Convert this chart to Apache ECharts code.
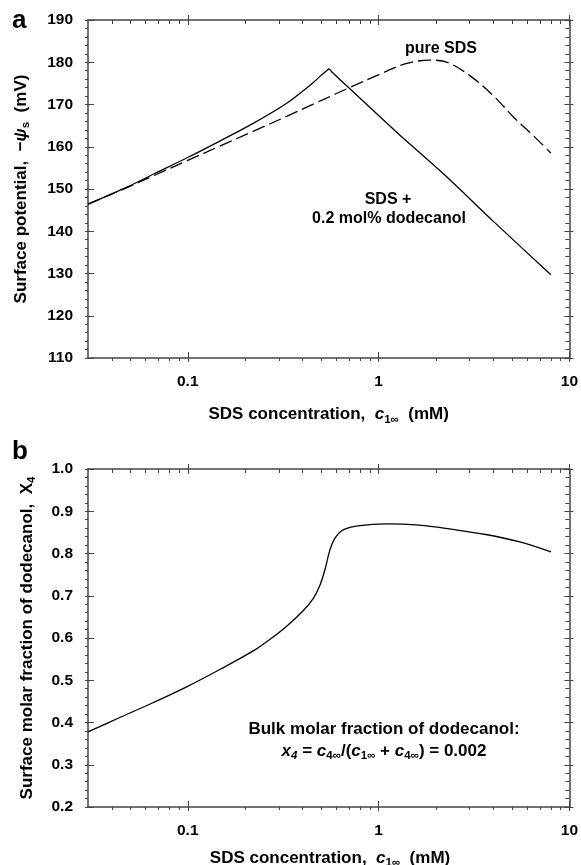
<!DOCTYPE html>
<html><head><meta charset="utf-8">
<script src="https://cdn.jsdelivr.net/npm/echarts@6/dist/echarts.min.js"></script>
<style>html,body{margin:0;padding:0;background:#fff}#c{width:581px;height:865px}</style>
</head><body><div id="c"></div>
<script>
// ---------- data ----------
const xMin = 0.03, xMax = 10;
const xMajorTicks = [0.1, 1, 10];
const xTickLabels = ['0.1', '1', '10'];
const xMinorTicks = [0.04,0.05,0.06,0.07,0.08,0.09,0.2,0.3,0.4,0.5,0.6,0.7,0.8,0.9,2,3,4,5,6,7,8,9];

// panel a: surface potential (mV)
const mixC = [0.03,0.0483,0.0666,0.0993,0.148,0.2214,0.33,0.455,0.50,0.534,0.549,0.575,0.696,1.219,2.222,4.05,8.0];
const mixV = [146.4,150.5,153.6,157.4,161.4,165.6,170.3,175.2,176.9,178.0,178.4,177.5,174.0,163.8,153.3,142.1,129.7];
const pureC = [0.03,0.0483,0.0666,0.0993,0.148,0.2214,0.33,0.455,0.602,0.696,0.997,1.374,1.855,2.312,3.058,4.05,5.15,6.55,8.0];
const pureV = [146.4,150.4,153.2,156.7,160.2,163.7,167.2,170.1,172.6,173.9,177.0,179.6,180.5,179.9,176.6,171.8,166.8,162.4,158.5];

// panel b: surface molar fraction X4
const x4C = [0.03,0.0446,0.0666,0.0993,0.148,0.2214,0.27,0.33,0.4036,0.455,0.4928,0.523,0.5556,0.59,0.6526,0.7967,1.098,1.637,2.445,3.649,5.443,8.0];
const x4V = [0.378,0.413,0.448,0.485,0.526,0.570,0.597,0.628,0.665,0.694,0.725,0.761,0.808,0.836,0.856,0.866,0.870,0.867,0.857,0.845,0.828,0.804];

// ---------- styling ----------
const FONT = '"Liberation Sans", Arial, Helvetica, sans-serif';
const AX = '#444';
const L = v => Math.log10(v);
const zip = (a, b) => a.map((v, i) => [v, b[i]]);
const tickLabelStyle = {fontSize: 15.5, fontWeight: 'bold', color: '#000', fontFamily: FONT};

function richStyles(size) {
  return {
    n: {fontSize: size, fontWeight: 'bold', fontFamily: FONT, color: '#000'},
    i: {fontSize: size, fontWeight: 'bold', fontStyle: 'italic', fontFamily: FONT, color: '#000'},
    sub: {fontSize: size * 0.68, fontWeight: 'bold', fontFamily: FONT, color: '#000', padding: [size * 0.55, 0, 0, 0]},
    isub: {fontSize: size * 0.68, fontWeight: 'bold', fontStyle: 'italic', fontFamily: FONT, color: '#000', padding: [size * 0.55, 0, 0, 0]}
  };
}

const grids = [
  {left: 88, right: 9, top: 20, height: 338},
  {left: 88, right: 9, top: 469, height: 338}
];

const xAxes = [], yAxes = [];
const dataX = [], dataY = [];

function decoX(g, pos, ticks, inside, len, extra) {
  return Object.assign({
    type: 'value', gridIndex: g, position: pos, min: L(xMin), max: L(xMax), silent: true,
    axisLine: {show: false, onZero: false}, splitLine: {show: false}, axisLabel: {show: false},
    axisTick: {show: true, inside: inside, length: len, customValues: ticks.map(L), lineStyle: {color: AX, width: 1}}
  }, extra || {});
}

const xTitle = '{n|SDS concentration,  }{i|c}{sub|1∞}{n|  (mM)}';
const yNames = [
  '{n|Surface potential,  −}{i|ψ}{sub|s}{n|  (mV)}',
  '{n|Surface molar fraction of dodecanol,  X}{sub|4}'
];
const yNameGaps = [56, 50];
const yRanges = [
  {min: 110, max: 190, interval: 10, fmt: v => String(v)},
  {min: 0.2, max: 1.0, interval: 0.1, fmt: v => v.toFixed(1)}
];

for (let g = 0; g < 2; g++) {
  // data axis (log scale)
  dataX.push(xAxes.length);
  xAxes.push({type: 'log', logBase: 10, gridIndex: g, min: xMin, max: xMax, show: false,
    axisLine: {show: false, onZero: false}, splitLine: {show: false}});
  // bottom: line + labels + outer major ticks
  const bottom = {
    axisLine: {show: true, onZero: false, lineStyle: {color: AX, width: 1.5}},
    axisLabel: Object.assign({show: true, margin: 16, customValues: xMajorTicks.map(L),
      formatter: v => { const i = xMajorTicks.findIndex(m => Math.abs(L(m) - v) < 1e-6); return i >= 0 ? xTickLabels[i] : ''; }
    }, tickLabelStyle)
  };
  if (g === 0) {
    Object.assign(bottom, {name: xTitle, nameLocation: 'middle', nameGap: 46, nameTextStyle: {rich: richStyles(17)}});
  }
  xAxes.push(decoX(g, 'bottom', xMajorTicks, false, 4, bottom));
  xAxes.push(decoX(g, 'bottom', xMajorTicks, true, 6));
  xAxes.push(decoX(g, 'bottom', xMinorTicks, false, 3));
  // top
  xAxes.push(decoX(g, 'top', xMajorTicks, true, 5, {axisLine: {show: true, onZero: false, lineStyle: {color: AX, width: 1.5}}}));
  xAxes.push(decoX(g, 'top', xMajorTicks, false, 5));
  xAxes.push(decoX(g, 'top', xMinorTicks, true, 4));

  const r = yRanges[g];
  const base = {type: 'value', gridIndex: g, min: r.min, max: r.max, interval: r.interval, splitLine: {show: false}};
  dataY.push(yAxes.length);
  yAxes.push(Object.assign({}, base, {
    position: 'left',
    axisLine: {show: true, onZero: false, lineStyle: {color: AX, width: 1.5}},
    axisTick: {show: true, inside: false, length: 3, lineStyle: {color: AX, width: 1}},
    minorTick: {show: true, splitNumber: 5, length: 3, lineStyle: {color: AX, width: 1}},
    axisLabel: Object.assign({margin: 15, formatter: r.fmt}, tickLabelStyle),
    name: yNames[g], nameLocation: 'middle', nameGap: yNameGaps[g],
    nameTextStyle: {rich: richStyles(17)}
  }));
  yAxes.push(Object.assign({}, base, {position: 'left', silent: true,
    axisLine: {show: false, onZero: false}, axisLabel: {show: false},
    axisTick: {show: true, inside: true, length: 6, lineStyle: {color: AX, width: 1}}}));
  yAxes.push(Object.assign({}, base, {position: 'right', silent: true,
    axisLine: {show: true, onZero: false, lineStyle: {color: AX, width: 1.5}}, axisLabel: {show: false},
    axisTick: {show: true, inside: true, length: 5, lineStyle: {color: AX, width: 1}},
    minorTick: {show: true, splitNumber: 5, length: 4, lineStyle: {color: AX, width: 1}}}));
  yAxes.push(Object.assign({}, base, {position: 'right', silent: true,
    axisLine: {show: false, onZero: false}, axisLabel: {show: false},
    axisTick: {show: true, inside: false, length: 4, lineStyle: {color: AX, width: 1}}}));
}

const lineBase = {type: 'line', showSymbol: false, symbol: 'none', animation: false, silent: true};

const option = {
  animation: false,
  backgroundColor: '#fff',
  grid: grids,
  xAxis: xAxes,
  yAxis: yAxes,
  series: [
    Object.assign({}, lineBase, {name: 'SDS + 0.2 mol% dodecanol', xAxisIndex: dataX[0], yAxisIndex: dataY[0],
      data: zip(mixC, mixV), smooth: 0.3, lineStyle: {color: '#000', width: 1.3}}),
    Object.assign({}, lineBase, {name: 'pure SDS', xAxisIndex: dataX[0], yAxisIndex: dataY[0],
      data: zip(pureC, pureV), smooth: 0.35, lineStyle: {color: '#000', width: 1.3, type: [13, 5]}}),
    Object.assign({}, lineBase, {name: 'X4', xAxisIndex: dataX[1], yAxisIndex: dataY[1],
      data: zip(x4C, x4V), smooth: 0.35, lineStyle: {color: '#000', width: 1.3}})
  ],
  graphic: [
    {type: 'text', left: 12, top: 8, style: {text: 'a', font: 'bold 26px ' + FONT, fill: '#000'}},
    {type: 'text', left: 12, top: 439, style: {text: 'b', font: 'bold 26px ' + FONT, fill: '#000'}},
    {type: 'text', x: 441, y: 49, style: {text: 'pure SDS', font: 'bold 16px ' + FONT, fill: '#000', align: 'center', verticalAlign: 'middle'}},
    {type: 'text', x: 388, y: 200, style: {text: 'SDS +', font: 'bold 16px ' + FONT, fill: '#000', align: 'center', verticalAlign: 'middle'}},
    {type: 'text', x: 389, y: 219, style: {text: '0.2 mol% dodecanol', font: 'bold 16px ' + FONT, fill: '#000', align: 'center', verticalAlign: 'middle'}},
    {type: 'text', x: 384, y: 729, style: {text: 'Bulk molar fraction of dodecanol:', font: 'bold 17px ' + FONT, fill: '#000', align: 'center', verticalAlign: 'middle'}},
    {type: 'text', x: 384, y: 751, style: {
      text: '{i|x}{isub|4}{n| = }{i|c}{sub|4∞}{n|/(}{i|c}{sub|1∞}{n| + }{i|c}{sub|4∞}{n|) = 0.002}',
      rich: richStyles(17), align: 'center', verticalAlign: 'middle'}},
    {type: 'text', x: 330, y: 858, style: {text: xTitle, rich: richStyles(17), align: 'center', verticalAlign: 'middle'}}
  ]
};

const chart = echarts.init(document.getElementById('c'), null, {renderer: 'canvas'});
chart.setOption(option);
</script>
</body></html>
